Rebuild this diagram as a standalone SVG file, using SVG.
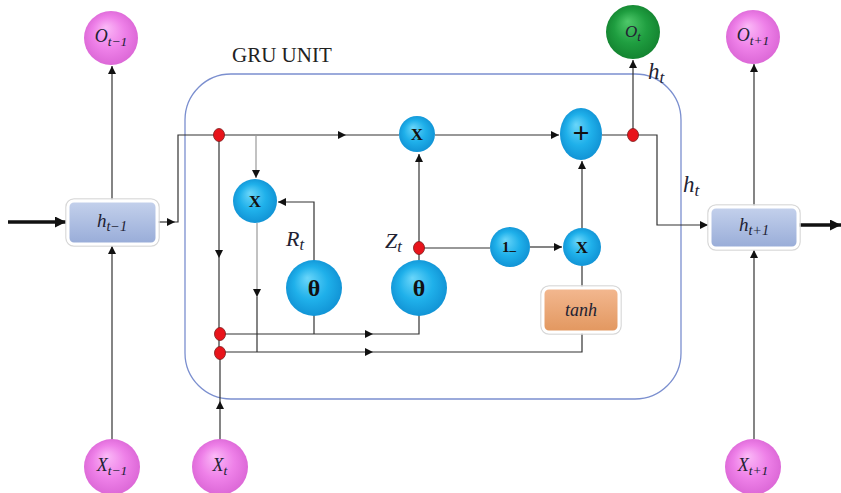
<svg xmlns="http://www.w3.org/2000/svg" width="841" height="493" viewBox="0 0 841 493">
<defs>
<radialGradient id="gBlue" cx="50%" cy="50%" r="55%" fx="38%" fy="32%">
<stop offset="0" stop-color="#6ad6fa"/><stop offset="0.55" stop-color="#1fb0ea"/><stop offset="1" stop-color="#0f8fd2"/>
</radialGradient>
<radialGradient id="gPink" cx="50%" cy="50%" r="55%" fx="40%" fy="30%">
<stop offset="0" stop-color="#fbb9f7"/><stop offset="0.55" stop-color="#ee80e8"/><stop offset="1" stop-color="#d964d4"/>
</radialGradient>
<radialGradient id="gGreen" cx="50%" cy="50%" r="55%" fx="40%" fy="30%">
<stop offset="0" stop-color="#4fc86a"/><stop offset="0.55" stop-color="#1f9e40"/><stop offset="1" stop-color="#12802e"/>
</radialGradient>
<linearGradient id="gBox" x1="0" y1="0" x2="0" y2="1">
<stop offset="0" stop-color="#c4d1ec"/><stop offset="1" stop-color="#98acd8"/>
</linearGradient>
<linearGradient id="gOrange" x1="0" y1="0" x2="0" y2="1">
<stop offset="0" stop-color="#f3b890"/><stop offset="1" stop-color="#e2975f"/>
</linearGradient>
<marker id="arr" viewBox="0 0 10 10" refX="10" refY="5" markerUnits="userSpaceOnUse" markerWidth="9" markerHeight="8" orient="auto">
<path d="M0,0 L10,5 L0,10 z" fill="#111"/>
</marker>
<marker id="arrBig" viewBox="0 0 10 10" refX="10" refY="5" markerUnits="userSpaceOnUse" markerWidth="13" markerHeight="11" orient="auto">
<path d="M0,0 L10,5 L0,10 z" fill="#111"/>
</marker>
<style>
.ln{fill:none;stroke:#333;stroke-width:1.2}
.lg{fill:none;stroke:#999;stroke-width:1.2}
.thick{fill:none;stroke:#111;stroke-width:3.5}
.blue{fill:url(#gBlue)}
.pink{fill:url(#gPink)}
.green{fill:url(#gGreen)}
.dot{fill:#e8141b;stroke:#7a1a1a;stroke-width:0.8}
.box{fill:url(#gBox);stroke:#ffffff;stroke-width:3}
.halo{fill:none;stroke:#d8d8d8;stroke-width:1.5}
.tbox{fill:url(#gOrange);stroke:#ffffff;stroke-width:3}
.m{font-family:"Liberation Serif",serif;font-style:italic;fill:#222233}
.b{font-family:"Liberation Serif",serif;font-weight:bold;fill:#111;text-anchor:middle}
.sub{font-size:0.75em}
</style>
</defs>

<g id="gru-unit">
<rect x="185" y="74" width="496" height="325" rx="46" ry="46" fill="none" stroke="#7b8fcf" stroke-width="1.3"/>
<text x="232" y="62" font-family="Liberation Serif, serif" font-size="21" fill="#222">GRU UNIT</text>
</g>

<g id="connectors">
<path class="thick" d="M8,222 H66" marker-end="url(#arrBig)"/>
<path class="thick" d="M798,225 H841" marker-end="url(#arrBig)"/>
<path class="ln" d="M112,201 V66" marker-end="url(#arr)"/>
<path class="ln" d="M112,440 V246" marker-end="url(#arr)"/>
<path class="ln" d="M157,222 H175" marker-end="url(#arr)"/>
<path class="ln" d="M175,222 H178 V135 H346" marker-end="url(#arr)"/>
<path class="ln" d="M346,135 H399"/>
<path class="ln" d="M435,135 H559" marker-end="url(#arr)"/>
<path class="ln" d="M602,135 H657 V225 H708" marker-end="url(#arr)"/>
<path class="ln" d="M633,135 V60" marker-end="url(#arr)"/>
<path class="ln" d="M754,206 V64" marker-end="url(#arr)"/>
<path class="ln" d="M754,439 V250" marker-end="url(#arr)"/>
<path class="ln" d="M219,135 V258" marker-end="url(#arr)"/>
<path class="ln" d="M219,258 V352"/>
<path class="ln" d="M220,440 V401" marker-end="url(#arr)"/>
<path class="ln" d="M220,401 V352"/>
<path class="lg" d="M256,135 V178" marker-end="url(#arr)"/>
<path class="lg" d="M257,223 V297" marker-end="url(#arr)"/>
<path class="ln" d="M257,297 V352"/>
<path class="ln" d="M314,261 V202 H278" marker-end="url(#arr)"/>
<path class="ln" d="M314,315 V334"/>
<path class="ln" d="M224,334 H373" marker-end="url(#arr)"/>
<path class="ln" d="M373,334 H419 V315"/>
<path class="ln" d="M224,352 H373" marker-end="url(#arr)"/>
<path class="ln" d="M373,352 H582 V332"/>
<path class="ln" d="M419,248 V154" marker-end="url(#arr)"/>
<path class="ln" d="M419,260 V248 H490"/>
<path class="ln" d="M530,247 H562" marker-end="url(#arr)"/>
<path class="ln" d="M582,228 V161" marker-end="url(#arr)"/>
<path class="ln" d="M582,266 V288"/>
</g>

<g id="labels">
<text class="m" x="648" y="79" font-size="23">h<tspan class="sub" dy="4">t</tspan></text>
<text class="m" x="683" y="192" font-size="23">h<tspan class="sub" dy="4">t</tspan></text>
<text class="m" x="286" y="246" font-size="22">R<tspan class="sub" dy="4">t</tspan></text>
<text class="m" x="385" y="248" font-size="22">Z<tspan class="sub" dy="4">t</tspan></text>
</g>

<g id="h-prev">
<rect x="66" y="199" width="93" height="47" rx="8" class="halo"/>
<rect x="68" y="201" width="89" height="43" rx="6" class="box"/>
<text class="m" x="112" y="227" font-size="19" text-anchor="middle">h<tspan class="sub" dy="4">t−1</tspan></text>
</g>

<g id="h-next">
<rect x="708" y="205" width="92" height="45" rx="8" class="halo"/>
<rect x="710" y="207" width="88" height="41" rx="6" class="box"/>
<text class="m" x="754" y="231" font-size="19" text-anchor="middle">h<tspan class="sub" dy="4">t+1</tspan></text>
</g>

<g id="o-prev">
<circle cx="111" cy="38" r="27" class="pink"/>
<text class="m" x="111" y="42" font-size="18" text-anchor="middle">O<tspan class="sub" dy="4">t−1</tspan></text>
</g>
<g id="o-t">
<circle cx="633" cy="32" r="27" class="green"/>
<text class="m" x="633" y="37" font-size="17" text-anchor="middle">O<tspan class="sub" dy="4">t</tspan></text>
</g>
<g id="o-next">
<circle cx="753" cy="37" r="27" class="pink"/>
<text class="m" x="753" y="41" font-size="18" text-anchor="middle">O<tspan class="sub" dy="4">t+1</tspan></text>
</g>
<g id="x-prev">
<circle cx="112" cy="467" r="28" class="pink"/>
<text class="m" x="112" y="471" font-size="18" text-anchor="middle">X<tspan class="sub" dy="4">t−1</tspan></text>
</g>
<g id="x-t">
<circle cx="220" cy="467" r="28" class="pink"/>
<text class="m" x="220" y="471" font-size="18" text-anchor="middle">X<tspan class="sub" dy="4">t</tspan></text>
</g>
<g id="x-next">
<circle cx="753" cy="467" r="28" class="pink"/>
<text class="m" x="753" y="471" font-size="18" text-anchor="middle">X<tspan class="sub" dy="4">t+1</tspan></text>
</g>

<g id="mul-top">
<circle cx="417" cy="134" r="18" class="blue"/>
<text class="b" x="417" y="140" font-size="17">X</text>
</g>
<g id="plus">
<ellipse cx="581" cy="134" rx="21" ry="26" class="blue"/>
<text class="b" x="581" y="143" font-size="30" font-weight="normal">+</text>
</g>
<g id="mul-r">
<circle cx="255" cy="201" r="22" class="blue"/>
<text class="b" x="255" y="207" font-size="17">X</text>
</g>
<g id="sigma-r">
<circle cx="314" cy="288" r="28" class="blue"/>
<text class="b" x="314" y="296" font-size="24">θ</text>
</g>
<g id="sigma-z">
<circle cx="419" cy="288" r="28" class="blue"/>
<text class="b" x="419" y="296" font-size="24">θ</text>
</g>
<g id="one-minus">
<circle cx="510" cy="247" r="20" class="blue"/>
<text class="b" x="509" y="252" font-size="15">1<tspan font-size="13" dy="2">–</tspan></text>
</g>
<g id="mul-low">
<circle cx="582" cy="247" r="19" class="blue"/>
<text class="b" x="582" y="253" font-size="17">X</text>
</g>
<g id="tanh">
<rect x="541" y="286" width="80" height="48" rx="8" class="halo"/>
<rect x="543" y="288" width="76" height="44" rx="6" class="tbox"/>
<text class="m" x="581" y="316" font-size="18" text-anchor="middle" fill="#3a2a20">tanh</text>
</g>

<g id="dots">
<ellipse cx="219" cy="135" rx="5.5" ry="6.5" class="dot"/>
<ellipse cx="633" cy="135" rx="5.5" ry="6.5" class="dot"/>
<ellipse cx="419" cy="248" rx="5.5" ry="6.5" class="dot"/>
<ellipse cx="220" cy="334" rx="5.5" ry="6.5" class="dot"/>
<ellipse cx="220" cy="353" rx="5.5" ry="6.5" class="dot"/>
</g>
</svg>
